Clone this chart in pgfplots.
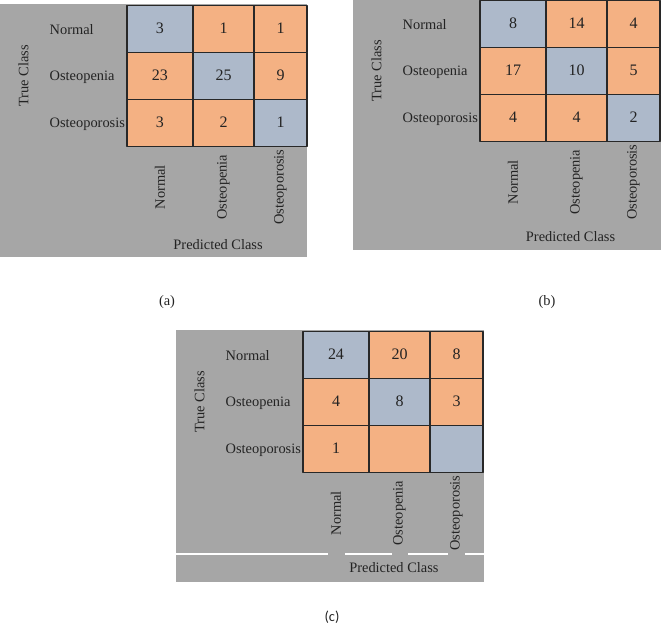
\documentclass[border=0pt]{standalone}
\usepackage{pgfplots}
\pgfplotsset{compat=1.18}
\usepackage{pgfplotstable}
\usepgfplotslibrary{patchplots}
\usepackage{fontspec}
\setmainfont{Liberation Serif}
\newfontfamily\calfont{Carlito}
\definecolor{bgg}{RGB}{166,166,166}
\definecolor{cline}{RGB}{40,40,40}
\definecolor{ctext}{RGB}{35,35,35}

% cell rectangles (4 corners each), c = 1 on the diagonal, 0 elsewhere
\pgfplotstableread{
x y c
0 94 1
66 94 1
66 141 1
0 141 1
66 94 0
127 94 0
127 141 0
66 141 0
127 94 0
180 94 0
180 141 0
127 141 0
0 47 0
66 47 0
66 94 0
0 94 0
66 47 1
127 47 1
127 94 1
66 94 1
127 47 0
180 47 0
180 94 0
127 94 0
0 0 0
66 0 0
66 47 0
0 47 0
66 0 0
127 0 0
127 47 0
66 47 0
127 0 1
180 0 1
180 47 1
127 47 1
}\cells

\pgfplotsset{
  cmstyle/.style={
    anchor=north west,
    x=0.75pt, y=0.75pt,
    xmin=0, xmax=180, ymin=0, ymax=141,
    clip=false,
    axis line style={draw=none},
    xtick={33,96.5,153.5}, xticklabels={Normal,Osteopenia,Osteoporosis},
    ytick={23.5,70.5,117.5}, yticklabels={Osteoporosis,Osteopenia,Normal},
    major tick length=0pt,
    tick label style={font=\fontsize{10.8}{12}\selectfont, text=ctext},
    yticklabel style={text width=57.75pt, align=left, inner xsep=0pt, anchor=east, yshift=-1pt},
    xticklabel style={yshift=-30.75pt, rotate=90, anchor=center},
    label style={font=\fontsize{10.8}{12}\selectfont, text=ctext},
    ylabel={True Class}, xlabel={Predicted Class},
    ylabel style={at={(axis description cs:-0.575,0.5)}, anchor=center},
    colormap={cm}{rgb255=(244,177,131) rgb255=(173,185,202)},
    point meta min=0, point meta max=1,
  },
  cellplot/.style={patch, patch type=rectangle, shader=faceted, faceted color=cline, line width=0.8pt},
  numplot/.style={draw=none, nodes near coords, nodes near coords align=center,
    point meta=explicit symbolic,
    every node near coord/.append style={font=\fontsize{12}{13}\selectfont, text=ctext}},
}

\begin{document}
\begin{tikzpicture}
\begin{scope}[x=0.75pt,y=-0.75pt]
\useasboundingbox (0,0) rectangle (661,625);
\fill[bgg] (0,4) rectangle (307,257);
\fill[bgg] (353,0) rectangle (661,250);
\fill[bgg] (176,330) rectangle (484,582);
\draw[white, line width=1.1pt] (176,554)--(328,554) (345,554)--(392,554) (408,554)--(448,554) (465,554)--(484,554);
\node[font=\fontsize{10.8}{12}\selectfont, text=ctext] at (167,302) {(a)};
\node[font=\fontsize{10.8}{12}\selectfont, text=ctext] at (547,302) {(b)};
\node[font=\calfont\fontsize{10.8}{12}\selectfont, text=ctext] at (332,617) {(c)};
\end{scope}

% (a)
\begin{axis}[cmstyle, at={(95.25pt,-3.75pt)},
  xlabel style={at={(axis description cs:0.506,-0.70)}, anchor=center}]
\addplot[cellplot] table[point meta=\thisrow{c}] {\cells};
\addplot[numplot] coordinates {
(33,117.5)[3] (96.5,117.5)[1] (153.5,117.5)[1]
(33,70.5)[23] (96.5,70.5)[25] (153.5,70.5)[9]
(33,23.5)[3] (96.5,23.5)[2] (153.5,23.5)[1]};
\end{axis}

% (b)
\begin{axis}[cmstyle, at={(360pt,0pt)},
  xlabel style={at={(axis description cs:0.503,-0.68)}, anchor=center}]
\addplot[cellplot] table[point meta=\thisrow{c}] {\cells};
\addplot[numplot] coordinates {
(33,117.5)[8] (96.5,117.5)[14] (153.5,117.5)[4]
(33,70.5)[17] (96.5,70.5)[10] (153.5,70.5)[5]
(33,23.5)[4] (96.5,23.5)[4] (153.5,23.5)[2]};
\end{axis}

% (c)
\begin{axis}[cmstyle, at={(227.25pt,-248.25pt)},
  xlabel style={at={(axis description cs:0.505,-0.68)}, anchor=center}]
\addplot[cellplot] table[point meta=\thisrow{c}] {\cells};
\addplot[numplot] coordinates {
(33,117.5)[24] (96.5,117.5)[20] (153.5,117.5)[8]
(33,70.5)[4] (96.5,70.5)[8] (153.5,70.5)[3]
(33,23.5)[1]};
\end{axis}
\end{tikzpicture}
\end{document}
